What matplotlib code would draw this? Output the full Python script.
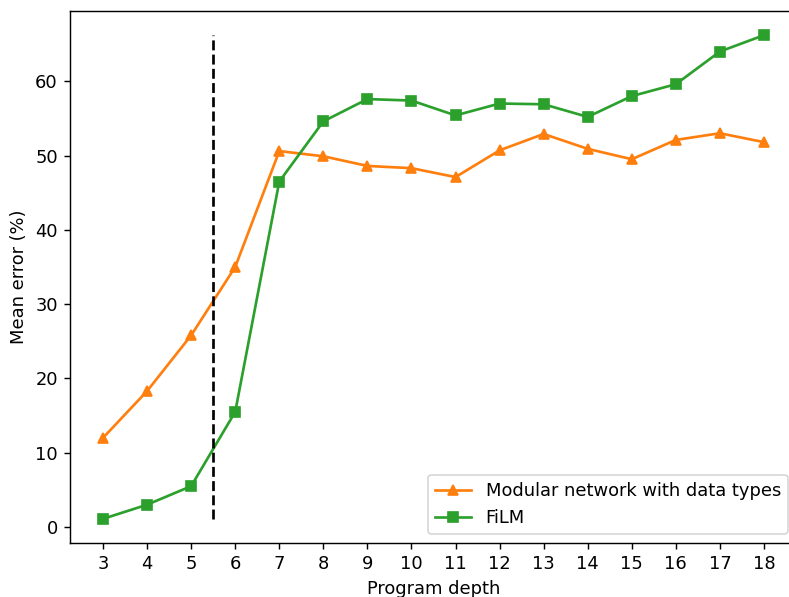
import numpy as np
import matplotlib
matplotlib.use("Agg")
import matplotlib.pyplot as plt

# Program depth on x axis
depth = list(range(3, 19))

# Mean error (%)
modular_err = [12.0, 18.3, 25.8, 35.0, 50.6, 49.9, 48.6, 48.3,
               47.1, 50.7, 52.9, 50.9, 49.5, 52.1, 53.0, 51.8]
film_err = [1.1, 3.0, 5.5, 15.5, 46.5, 54.6, 57.6, 57.4,
            55.4, 57.0, 56.9, 55.2, 58.0, 59.6, 64.0, 66.2]

split_depth = 5.5

# reference looks like default style rendered slightly larger
scale = 1.073
plt.rcParams.update({
    "font.size": 10 * scale,
    "lines.linewidth": 1.5 * scale,
    "lines.markersize": 6 * scale,
    "axes.linewidth": 0.8 * scale,
    "xtick.major.size": 3.5 * scale,
    "ytick.major.size": 3.5 * scale,
    "xtick.major.width": 0.8 * scale,
    "ytick.major.width": 0.8 * scale,
})

fig = plt.figure(figsize=(789 / 120, 597 / 120), dpi=120)
ax = fig.add_axes([70 / 789, 1 - 543 / 597, (797 - 70) / 789, (543 - 11) / 597])

ax.plot(depth, modular_err, marker="^", color="tab:orange",
        label="Modular network with data types")
ax.plot(depth, film_err, marker="s", color="tab:green", label="FiLM")

all_vals = modular_err + film_err
ax.vlines(split_depth, min(all_vals), max(all_vals), colors="k",
          linestyles="dashed", linewidth=1.5 * scale)

ax.set_xticks(depth)
ax.set_xlabel("Program depth")
ax.set_ylabel("Mean error (%)")
ax.legend(loc="lower right")

fig.savefig("out.png", dpi=120)
